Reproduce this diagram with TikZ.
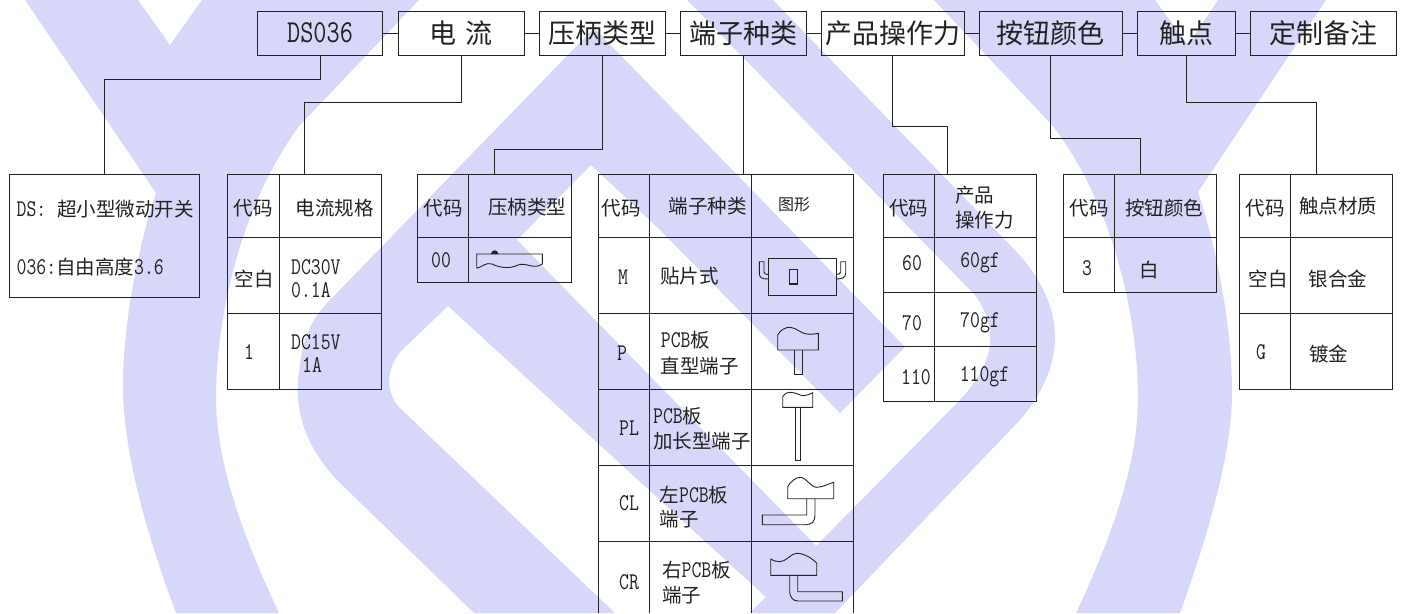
\documentclass[tikz,border=0pt]{standalone}
\usepackage{fontspec}
\usepackage{xcolor}
\setmonofont[Scale=1.23, FakeStretch=0.8]{Latin Modern Mono}
\newfontfamily\cjk{Noto Sans CJK SC}
\definecolor{wmark}{HTML}{D7D7F9}
\definecolor{inkc}{HTML}{222222}
\newcommand{\lat}[1]{\texttt{#1}}
\newcommand{\hd}[1]{\raisebox{-2pt}{#1}}
\tikzset{
  hbox/.style={draw=inkc, line width=0.95pt, minimum height=44pt, inner sep=0pt, font=\cjk\fontsize{27}{30}\selectfont, text=inkc},
  tbox/.style={draw=inkc, line width=0.95pt, inner sep=0pt},
  gridl/.style={draw=inkc, line width=0.95pt},
  conn/.style={draw=inkc, line width=0.95pt},
  icon/.style={draw=inkc, line width=0.9pt},
  txt/.style={inner sep=0pt, text=inkc, font=\cjk\fontsize{19.5}{24}\selectfont},
  ltxt/.style={txt, anchor=west}
}
\begin{document}
\begin{tikzpicture}[x=1pt, y=-1pt]
	\useasboundingbox (0,0) rectangle (1402,613);
	% Watermark
	\fill[wmark] (25,0) -- (156,193) .. controls (140,240) and (123,320) .. (123,385) .. controls (123,450) and (145,530) .. (176,613) -- (279,613) .. controls (240,530) and (216,460) .. (216,397) .. controls (216,320) and (240,205) .. (300,125) -- (419,0) -- (202,0) -- (170,45) -- (138,0) -- cycle;
	\fill[wmark] (1326,0) -- (1198,192) .. controls (1214,240) and (1232,320) .. (1232,393) .. controls (1232,450) and (1210,530) .. (1180,613) -- (1076,613) .. controls (1115,530) and (1138,460) .. (1138,397) .. controls (1138,320) and (1114,205) .. (1052,125) -- (934,0) -- (1155,0) -- (1188,45) -- (1218,0) -- cycle;
	\fill[wmark] (594,28) -- (905,347) -- (840,413) -- (660,230) -- (591,165) -- (517,240) -- (830,560) -- (780,610) -- (448,306) -- (402,350) .. controls (385,368) and (385,395) .. (402,410) -- (615,613) -- (474,613) -- (337,480) .. controls (305,445) and (292,410) .. (300,365) .. controls (303,340) and (310,320) .. (330,300) -- cycle;
	\fill[wmark] (687,0) -- (773,0) -- (1010,245) .. controls (1060,295) and (1075,355) .. (1020,420) -- (835,613) -- (750,613) -- (955,405) .. controls (995,365) and (1000,330) .. (975,295) -- cycle;
	% Header boxes
	\node[hbox, minimum width=125pt] (ds) at (320,33) {\fontsize{26}{30}\selectfont\lat{DS036}};
	\node[hbox, minimum width=126pt] (dl) at (461,33) {\hd{电\hspace{9pt}流}};
	\node[hbox, minimum width=126pt] (yb) at (602,33) {\hd{压柄类型}};
	\node[hbox, minimum width=126pt] (dz) at (743,33) {\hd{端子种类}};
	\node[hbox, minimum width=143pt] (cp) at (892.5,33) {\hd{产品操作力}};
	\node[hbox, minimum width=143pt] (an) at (1050.5,33) {\hd{按钮颜色}};
	\node[hbox, minimum width=98pt] (cd) at (1186,33) {\hd{触点}};
	\node[hbox, minimum width=146pt] (dzh) at (1323,33) {\hd{定制备注}};
	% Links between boxes
	\draw[conn] (ds) -- (dl);
	\draw[conn] (dl) -- (yb);
	\draw[conn] (yb) -- (dz);
	\draw[conn] (dz) -- (cp);
	\draw[conn] (cp) -- (an);
	\draw[conn] (an) -- (cd);
	\draw[conn] (cd) -- (dzh);
	% Table frames
	\node[tbox, minimum width=190pt, minimum height=123pt] (tb1) at (104.7,235.5) {};
	\node[tbox, minimum width=154pt, minimum height=215pt] (tb2) at (304,281.5) {};
	\node[tbox, minimum width=154pt, minimum height=108pt] (tb3) at (494,228) {};
	\coordinate (tb4) at (743,174);
	\node[tbox, minimum width=153pt, minimum height=227pt] (tb5) at (959.5,287.5) {};
	\coordinate (tb5t) at (947.5,174);
	\node[tbox, minimum width=153.5pt, minimum height=118pt] (tb6) at (1140.2,233) {};
	\node[tbox, minimum width=153.5pt, minimum height=215pt] (tb7) at (1316.2,281.5) {};
	% Links down to the tables
	\draw[conn] (ds.south) -- ++(0,24) -| (tb1.north);
	\draw[conn] (dl.south) -- ++(0,47) -| (tb2.north);
	\draw[conn] (yb.south) -- ++(0,94) -| (tb3.north);
	\draw[conn] (dz.south) -- (tb4);
	\draw[conn] (cp.south) -- ++(0,70.5) -| (tb5t);
	\draw[conn] (an.south) -- ++(0,83) -| (tb6.north);
	\draw[conn] (cd.south) -- ++(0,47) -| (tb7.north);
	% Table grids
	\draw[gridl] (279,174) -- (279,389);
	\draw[gridl] (227,237) -- (381,237);
	\draw[gridl] (227,313) -- (381,313);
	\draw[gridl] (468.5,174) -- (468.5,282);
	\draw[gridl] (417,237) -- (571,237);
	\draw[gridl] (598,613) -- (598,174) -- (853.5,174) -- (853.5,613);
	\draw[gridl] (649.5,174) -- (649.5,613);
	\draw[gridl] (751.5,174) -- (751.5,613);
	\foreach \y in {237,313,389,465,541}
		\draw[gridl] (598,\y) -- (853.5,\y);
	\draw[gridl] (934,174) -- (934,401);
	\foreach \y in {237,292,346}
		\draw[gridl] (883,\y) -- (1036,\y);
	\draw[gridl] (1114.5,174) -- (1114.5,292);
	\draw[gridl] (1063.5,237) -- (1217,237);
	\draw[gridl] (1290.4,174) -- (1290.4,389);
	\draw[gridl] (1239.4,237) -- (1393,237);
	\draw[gridl] (1239.4,313) -- (1393,313);
	% Table 1
	\node[ltxt] (a1) at (16.5,209) {\lat{DS:}\hspace{11pt}超小型微动开关};
	\node[ltxt] (a2) at (16.5,267) {\lat{036:}自由高度\lat{3.6}};
	% Table 2
	\node[txt] (b1) at (253,208) {代码};
	\node[txt] (b2) at (334.5,208) {电流规格};
	\node[txt] (b3) at (254,279) {空白};
	\node[ltxt] (b4) at (291,267) {\lat{DC30V}};
	\node[ltxt] (b5) at (291,290) {\lat{0.1A}};
	\node[txt] (b6) at (249,352) {\lat{1}};
	\node[ltxt] (b7) at (291,342) {\lat{DC15V}};
	\node[ltxt] (b8) at (302,365) {\lat{1A}};
	% Table 3
	\node[txt] (c1) at (443,208) {代码};
	\node[txt] (c2) at (527,207) {压柄类型};
	\node[txt] (c3) at (441,260.5) {\lat{00}};
	\draw[icon] (476.7,268.3) -- (476.7,254) -- (542.3,254) -- (542.3,264) .. controls (534,270) and (526,262) .. (518,265) .. controls (510,269) and (500,268) .. (492,264) .. controls (486,262) and (482,267) .. (476.7,268.3);
	\fill[inkc] (491,254) arc (180:360:3.7) -- cycle;
	% Table 4
	\node[txt] (d1) at (621,208) {代码};
	\node[txt] (d2) at (707.5,206) {端子种类};
	\node[txt, font=\cjk\fontsize{16}{20}\selectfont] (d3) at (794,205) {图形};
	\node[txt] (d4) at (623,277) {\lat{M}};
	\node[txt] (d5) at (689.5,276) {贴片式};
	\node[txt] (d6) at (622,353) {\lat{P}};
	\node[ltxt] (d7) at (660.7,340) {\lat{PCB}板};
	\node[ltxt] (d8) at (660.7,366) {直型端子};
	\node[txt] (d9) at (629,428) {\lat{PL}};
	\node[ltxt] (d10) at (653,416) {\lat{PCB}板};
	\node[ltxt] (d11) at (653,441) {加长型端子};
	\node[txt] (d12) at (629,503) {\lat{CL}};
	\node[ltxt] (d13) at (659.5,495) {左\lat{PCB}板};
	\node[ltxt] (d14) at (659.5,519) {端子};
	\node[txt] (d15) at (629,582) {\lat{CR}};
	\node[ltxt] (d16) at (662,570.5) {右\lat{PCB}板};
	\node[ltxt] (d17) at (662,595.5) {端子};
	% Terminal drawings
	\draw[icon] (768.3,258) rectangle (836,295.7);
	\draw[inkc, line width=1.4pt] (789.3,269.3) rectangle (797.7,284);
	\draw[icon] (768.3,279) .. controls (762,279) and (759.3,278) .. (759.3,273) -- (759.3,261.7) -- (764,261.7) -- (764,272) .. controls (764,274) and (766,274.5) .. (768.3,274.5);
	\draw[icon] (836,279) .. controls (842,279) and (845.7,278) .. (845.7,273) -- (845.7,261.7) -- (840.7,261.7) -- (840.7,272) .. controls (840.7,274) and (838,274.5) .. (836,274.5);
	\draw[icon] (777.7,350) -- (777.7,335) .. controls (780,330) and (786,327) .. (790,327.3) .. controls (796,327.5) and (802,334) .. (806.7,334) .. controls (811,334.5) and (815,334) .. (818.3,333.3) -- (818.3,350) -- cycle;
	\draw[icon] (794,350) -- (794,374) -- (802,374) -- (802,350);
	\draw[icon] (782.7,407.3) -- (782.7,396.7) .. controls (785,393) and (788,392.3) .. (790,392.3) .. controls (796,392.3) and (800,395.7) .. (803.3,395.7) .. controls (807,395.7) and (810,394) .. (812.7,392.7) -- (812.7,407.3) -- cycle;
	\draw[icon] (795,407.3) -- (795,460.7) -- (800.7,460.7) -- (800.7,407.3);
	\draw[icon] (787.7,498.7) -- (787.7,486.7) .. controls (790,482) and (796,477.3) .. (800,477.3) .. controls (806,477.3) and (811,487.3) .. (816.7,487.3) .. controls (822,487.3) and (828,484) .. (833.7,482.3) -- (833.7,498.7) -- cycle;
	\draw[icon] (806.7,498.7) -- (806.7,515) -- (762.3,515) -- (762.3,524.7) -- (806,524.7) .. controls (812,524.7) and (815,521) .. (815,515) -- (815,498.7);
	\draw[icon] (770.7,575.3) -- (770.7,559) .. controls (774,561) and (777,561.7) .. (780,561.7) .. controls (786,561.7) and (791,553.3) .. (796.7,553.3) .. controls (804,553.3) and (812,558) .. (816.7,563.3) -- (816.7,575.3) -- cycle;
	\draw[icon] (797.7,575.3) -- (797.7,591.7) -- (842.3,591.7) -- (842.3,601) -- (798,601) .. controls (793,601) and (789.7,597) .. (789.7,591.7) -- (789.7,575.3);
	% Table 5
	\node[txt] (e1) at (908.5,208) {代码};
	\node[ltxt] (e2) at (955,195) {产品};
	\node[ltxt] (e3) at (955,220) {操作力};
	\node[txt] (e4) at (912,263) {\lat{60}};
	\node[txt] (e5) at (980,263) {\lat{60gf}};
	\node[txt] (e6) at (912,323) {\lat{70}};
	\node[txt] (e7) at (980,323) {\lat{70gf}};
	\node[txt] (e8) at (916,377) {\lat{110}};
	\node[txt] (e9) at (984.5,377) {\lat{110gf}};
	% Table 6
	\node[txt] (f1) at (1089,208) {代码};
	\node[txt] (f2) at (1164,208) {按钮颜色};
	\node[txt] (f3) at (1087,268) {\lat{3}};
	\node[txt] (f4) at (1149,270) {白};
	% Table 7
	\node[txt] (g1) at (1265,208) {代码};
	\node[txt] (g2) at (1338,206) {触点材质};
	\node[txt] (g3) at (1268,279) {空白};
	\node[txt] (g4) at (1338,279) {银合金};
	\node[txt] (g5) at (1261,352) {\lat{G}};
	\node[txt] (g6) at (1328.5,354) {镀金};
\end{tikzpicture}
\end{document}
